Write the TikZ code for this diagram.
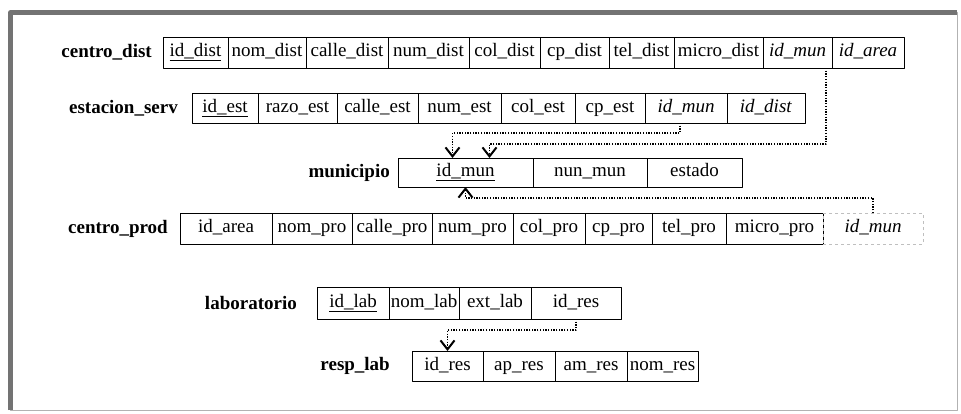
\documentclass[tikz,border=0pt]{standalone}
\usepackage{fontspec}
\setmainfont{Liberation Serif}
\usetikzlibrary{positioning,arrows.meta}

\newcommand{\letra}{\fontsize{19}{22}\selectfont}
\tikzset{
	celda/.style={draw, line width=0.8pt, minimum height=31pt, inner sep=0pt, outer sep=0pt, text height=12pt, text depth=4pt},
	tabla/.style={font=\letra\bfseries, inner sep=0pt},
	fk/.style={->, line width=1.3pt, dash pattern=on 1.3pt off 1.4pt},
}

\begin{document}
\begin{tikzpicture}[x=1pt, y=-1pt, font=\letra, line join=round, >={Straight Barb[length=9pt,width=14pt,line width=2pt]}] %Esquema relacional
	\useasboundingbox (0,0) rectangle (961,413);
	\draw[gray!60, line width=0.6pt] (10,12) rectangle (957,410);
	\draw[black!55, line width=4.5pt] (10.5,410) -- (10.5,12.5) -- (957,12.5);
	
	% centro_dist
	\node[celda, minimum width=65pt, anchor=west] (cd1) at (163,52.5) {\underline{id\_dist}};
	\node[celda, minimum width=78pt, right=0pt of cd1] (cd2) {nom\_dist};
	\node[celda, minimum width=82pt, right=0pt of cd2] (cd3) {calle\_dist};
	\node[celda, minimum width=81pt, right=0pt of cd3] (cd4) {num\_dist};
	\node[celda, minimum width=71pt, right=0pt of cd4] (cd5) {col\_dist};
	\node[celda, minimum width=69pt, right=0pt of cd5] (cd6) {cp\_dist};
	\node[celda, minimum width=65pt, right=0pt of cd6] (cd7) {tel\_dist};
	\node[celda, minimum width=89pt, right=0pt of cd7] (cd8) {micro\_dist};
	\node[celda, minimum width=69pt, right=0pt of cd8] (cd9) {\textit{id\_mun}};
	\node[celda, minimum width=72pt, right=0pt of cd9] (cd10) {\textit{id\_area}};
	\node[tabla, left=11pt of cd1] (tcd) {centro\_dist};
	
	% estacion_serv
	\node[celda, minimum height=30pt, minimum width=66pt, anchor=west] (es1) at (192,108) {\underline{id\_est}};
	\node[celda, minimum height=30pt, minimum width=79pt, right=0pt of es1] (es2) {razo\_est};
	\node[celda, minimum height=30pt, minimum width=81pt, right=0pt of es2] (es3) {calle\_est};
	\node[celda, minimum height=30pt, minimum width=83pt, right=0pt of es3] (es4) {num\_est};
	\node[celda, minimum height=30pt, minimum width=74pt, right=0pt of es4] (es5) {col\_est};
	\node[celda, minimum height=30pt, minimum width=70pt, right=0pt of es5] (es6) {cp\_est};
	\node[celda, minimum height=30pt, minimum width=82pt, right=0pt of es6] (es7) {\textit{id\_mun}};
	\node[celda, minimum height=30pt, minimum width=78pt, right=0pt of es7] (es8) {\textit{id\_dist}};
	\node[tabla, left=14pt of es1] (tes) {estacion\_serv};
	
	% municipio
	\node[celda, minimum height=29pt, minimum width=135pt, anchor=west] (mu1) at (398,172.5) {\underline{id\_mun}};
	\node[celda, minimum height=29pt, minimum width=114pt, right=0pt of mu1] (mu2) {nun\_mun};
	\node[celda, minimum height=29pt, minimum width=95pt, right=0pt of mu2] (mu3) {estado};
	\node[tabla, left=8pt of mu1] (tmu) {municipio};
	
	% centro_prod
	\node[celda, minimum width=92pt, anchor=west] (cp1) at (180,228.5) {id\_area};
	\node[celda, minimum width=80pt, right=0pt of cp1] (cp2) {nom\_pro};
	\node[celda, minimum width=80pt, right=0pt of cp2] (cp3) {calle\_pro};
	\node[celda, minimum width=81pt, right=0pt of cp3] (cp4) {num\_pro};
	\node[celda, minimum width=72pt, right=0pt of cp4] (cp5) {col\_pro};
	\node[celda, minimum width=67pt, right=0pt of cp5] (cp6) {cp\_pro};
	\node[celda, minimum width=74pt, right=0pt of cp6] (cp7) {tel\_pro};
	\node[celda, minimum width=97pt, right=0pt of cp7] (cp8) {micro\_pro};
	\node[celda, draw=gray!50, dashed, minimum width=100pt, right=0pt of cp8] (cp9) {\textit{id\_mun}};
	\node[tabla, left=12pt of cp1] (tcp) {centro\_prod};
	
	% laboratorio
	\node[celda, minimum height=32pt, minimum width=72pt, anchor=west] (lab1) at (317,303) {\underline{id\_lab}};
	\node[celda, minimum height=32pt, minimum width=70pt, right=0pt of lab1] (lab2) {nom\_lab};
	\node[celda, minimum height=32pt, minimum width=72pt, right=0pt of lab2] (lab3) {ext\_lab};
	\node[celda, minimum height=32pt, minimum width=90pt, right=0pt of lab3] (lab4) {id\_res};
	\node[tabla, left=20pt of lab1] (tlab) {laboratorio};
	
	% resp_lab
	\node[celda, minimum height=30pt, minimum width=71pt, anchor=west] (rl1) at (412,366) {id\_res};
	\node[celda, minimum height=30pt, minimum width=72pt, right=0pt of rl1] (rl2) {ap\_res};
	\node[celda, minimum height=30pt, minimum width=72pt, right=0pt of rl2] (rl3) {am\_res};
	\node[celda, minimum height=30pt, minimum width=71pt, right=0pt of rl3] (rl4) {nom\_res};
	\node[tabla, left=22pt of rl1] (trl) {resp\_lab};
	
	% llaves foraneas
	\draw[fk] ([xshift=-6pt]es7.south) -- ++(0,10) -| ([xshift=-13pt]mu1.north);
	\draw[fk] ([xshift=-6pt]cd9.south east) -- ++(0,76) -| ([xshift=24pt]mu1.north);
	\draw[fk] (cp9.north) -- ++(0,-15) -| (mu1.south);
	\draw[fk] (lab4.south) -- ++(0,11) -| (rl1.north);
\end{tikzpicture}
\end{document}
